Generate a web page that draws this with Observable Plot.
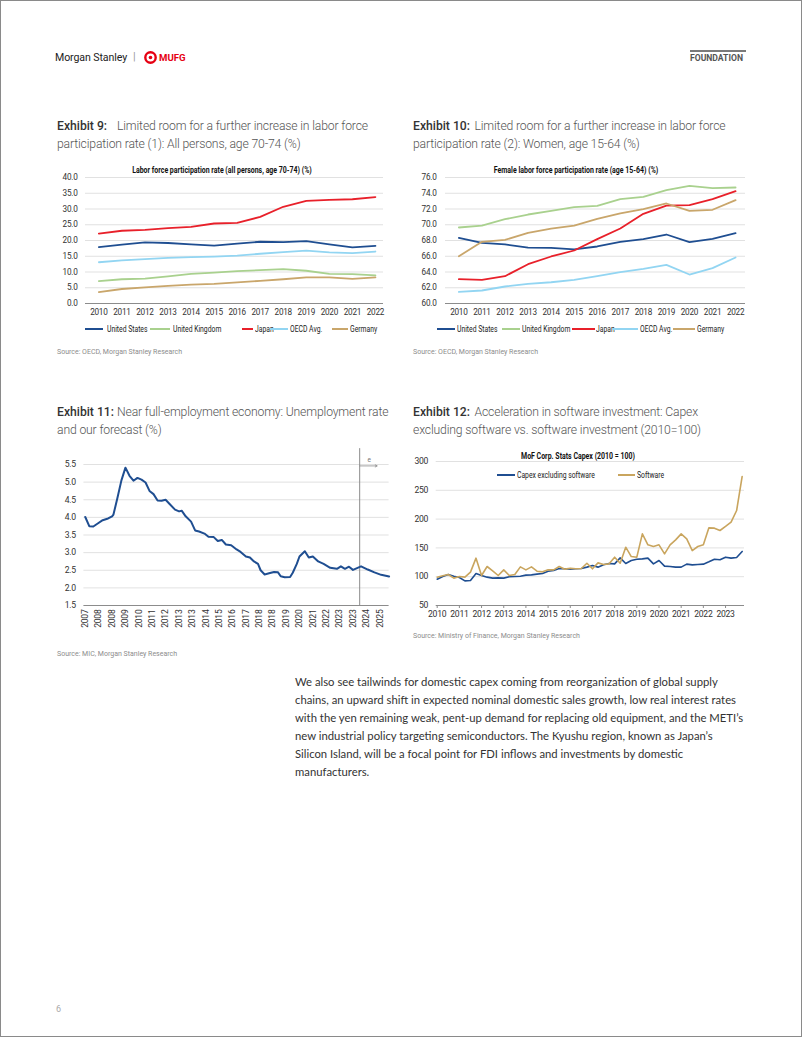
<!DOCTYPE html>
<html><head><meta charset="utf-8">
<script src="https://cdn.jsdelivr.net/npm/d3@7"></script>
<script src="https://cdn.jsdelivr.net/npm/@observablehq/plot@0.6"></script>
<style>
html,body{margin:0;padding:0;background:#fff;}
#page{position:relative;width:802px;height:1037px;overflow:hidden;font-family:Roboto,sans-serif;}
.frame{position:absolute;left:0;top:0;width:802px;height:1037px;box-sizing:border-box;border:1px solid #8a8a8a;}
.abs{position:absolute;white-space:nowrap;}
.ttl{font-size:12.2px;letter-spacing:-0.15px;font-weight:300;color:#555;line-height:18.5px;}
.ttl b{font-weight:500;color:#333;display:inline-block;width:60px;letter-spacing:0;}
.ttl.r b{width:61.5px;}
.ctitle{font-family:Roboto,sans-serif;font-weight:bold;font-size:8.3px;color:#111;transform:translateX(-50%) scaleX(0.84);line-height:10px;}
.src{font-size:7px;color:#8c8c8c;line-height:10px;}
.leg{font-family:Roboto,sans-serif;font-size:8.5px;color:#222;line-height:10px;transform-origin:0 50%;transform:scaleX(0.8);}
.sw{position:absolute;height:2px;}
.para{font-family:Lato,sans-serif;font-size:11.3px;color:#333;line-height:18px;}
.chart text{letter-spacing:-0.25px;}
</style>
</head><body>
<div id="page">
  <div class="frame"></div>
  <div class="abs" style="left:55px;top:50.5px;font-family:Roboto,sans-serif;font-size:10.6px;color:#222;line-height:13px;letter-spacing:-0.1px;">Morgan Stanley</div>
  <div class="abs" style="left:133px;top:50px;font-size:11px;color:#999;line-height:14px;">|</div>
  <svg class="abs" style="left:143px;top:50px" width="15" height="15"><circle cx="7.5" cy="7.5" r="5.2" fill="none" stroke="#e60012" stroke-width="2.4"/><circle cx="7.5" cy="7.5" r="1.8" fill="#e60012"/></svg>
  <div class="abs" style="left:159px;top:51.5px;font-family:Roboto,sans-serif;font-weight:700;font-size:9.6px;color:#e60012;line-height:12px;">MUFG</div>
  <div class="abs" style="left:690px;top:50px;width:56px;height:2px;background:#7a7a7a;"></div>
  <div class="abs" style="left:690px;top:53px;font-family:Roboto,sans-serif;font-weight:700;font-size:8.6px;color:#555;line-height:11px;">FOUNDATION</div>

  <div class="abs ttl" style="left:57px;top:116.5px;"><b>Exhibit 9:</b>Limited room for a further increase in labor force<br>participation rate (1): All persons, age 70-74 (%)</div>
  <div class="abs ttl r" style="left:413px;top:116.5px;"><b>Exhibit 10:</b>Limited room for a further increase in labor force<br>participation rate (2): Women, age 15-64 (%)</div>
  <div class="abs ttl" style="left:57px;top:402.5px;"><b>Exhibit 11:</b>Near full-employment economy: Unemployment rate<br>and our forecast (%)</div>
  <div class="abs ttl r" style="left:413px;top:402.5px;"><b>Exhibit 12:</b>Acceleration in software investment: Capex<br>excluding software vs. software investment (2010=100)</div>

  <div class="abs ctitle" style="left:221.5px;top:165px;">Labor force participation rate (all persons, age 70-74) (%)</div>
  <div class="abs ctitle" style="left:576px;top:165px;">Female labor force participation rate (age 15-64) (%)</div>
  <div class="abs ctitle" style="left:578px;top:451px;">MoF Corp. Stats Capex (2010 = 100)</div>

  <div id="c9" class="abs chart" style="left:40px;top:160px;"></div>
  <div id="c10" class="abs chart" style="left:395px;top:160px;"></div>
  <div id="c11" class="abs chart" style="left:50px;top:440px;"></div>
  <div id="c12" class="abs chart" style="left:400px;top:450px;"></div>
  <div id="legends"></div>

  <div class="abs src" style="left:57px;top:347px;">Source: OECD, Morgan Stanley Research</div>
  <div class="abs src" style="left:413px;top:347px;">Source: OECD, Morgan Stanley Research</div>
  <div class="abs src" style="left:57px;top:649px;">Source: MIC, Morgan Stanley Research</div>
  <div class="abs src" style="left:413px;top:631px;">Source: Ministry of Finance, Morgan Stanley Research</div>

  <div class="abs para" style="left:295px;top:673px;">We also see tailwinds for domestic capex coming from reorganization of global supply<br>chains, an upward shift in expected nominal domestic sales growth, low real interest rates<br>with the yen remaining weak, pent-up demand for replacing old equipment, and the METI’s<br>new industrial policy targeting semiconductors. The Kyushu region, known as Japan’s<br>Silicon Island, will be a focal point for FDI inflows and investments by domestic<br>manufacturers.</div>

  <div class="abs" style="left:56px;top:1003px;font-size:9px;color:#aaa;line-height:12px;">6</div>
</div>
<script>
const font = 'Roboto,sans-serif';

// ---------- Exhibit 9 ----------
const years = [2010, 2011, 2012, 2013, 2014, 2015, 2016, 2017, 2018, 2019, 2020, 2021, 2022];
const seriesNames = ["United States", "United Kingdom", "Japan", "OECD Avg.", "Germany"];
const seriesColors = ["#1f4e91", "#a9d18e", "#e8202a", "#92d5f2", "#c9a66b"];
const us9 = [17.9, 18.7, 19.4, 19.2, 18.8, 18.4, 19.0, 19.6, 19.5, 19.8, 18.8, 17.8, 18.3];
const uk9 = [7.1, 7.7, 7.9, 8.6, 9.4, 9.8, 10.3, 10.6, 10.9, 10.4, 9.4, 9.3, 8.9];
const jp9 = [22.2, 23.1, 23.4, 23.9, 24.3, 25.4, 25.6, 27.5, 30.7, 32.6, 32.9, 33.1, 33.8];
const oecd9 = [13.1, 13.7, 14.1, 14.5, 14.7, 14.9, 15.2, 15.8, 16.3, 16.8, 16.2, 16.0, 16.5];
const de9 = [3.6, 4.6, 5.1, 5.6, 6.0, 6.2, 6.7, 7.2, 7.7, 8.3, 8.3, 7.8, 8.3];
const yTicks9 = [0, 5, 10, 15, 20, 25, 30, 35, 40];

// ---------- Exhibit 10 ----------
const us10 = [68.34, 67.7, 67.5, 67.1, 67.07, 66.86, 67.24, 67.83, 68.17, 68.76, 67.8, 68.2, 68.93];
const uk10 = [69.65, 69.9, 70.7, 71.3, 71.77, 72.23, 72.4, 73.25, 73.55, 74.4, 74.94, 74.65, 74.73];
const jp10 = [63.09, 63.0, 63.47, 64.99, 65.97, 66.73, 68.17, 69.52, 71.39, 72.44, 72.49, 73.25, 74.26];
const oecd10 = [61.48, 61.65, 62.16, 62.5, 62.7, 63.0, 63.47, 63.98, 64.4, 64.9, 63.68, 64.49, 65.84];
const de10 = [66.0, 67.83, 68.08, 68.97, 69.52, 69.9, 70.75, 71.43, 71.98, 72.7, 71.77, 71.9, 73.12];
const yTicks10 = [60, 62, 64, 66, 68, 70, 72, 74, 76];

// ---------- Exhibit 11 ----------
const unempDates = ["2007-04","2007-07","2007-10","2008-01","2008-05","2008-09","2008-12","2009-01","2009-04","2009-07","2009-10",
  "2010-01","2010-04","2010-07","2010-10","2011-01","2011-04","2011-07","2011-10","2012-01","2012-04","2012-07","2012-11",
  "2013-02","2013-04","2013-07","2013-11","2014-02","2014-05","2014-09","2014-12","2015-04","2015-07","2015-10","2016-01",
  "2016-05","2016-09","2016-12","2017-04","2017-07","2017-10","2018-01","2018-03","2018-06","2018-10","2019-01","2019-04",
  "2019-06","2019-09","2020-01","2020-03","2020-06","2020-08","2020-12","2021-03","2021-06","2021-10","2022-02","2022-07",
  "2022-12","2023-03","2023-06","2023-09","2023-12","2024-06","2024-11","2025-04","2025-09","2026-03"];
const unempValues = [4.01,3.75,3.74,3.82,3.92,3.97,4.03,4.08,4.55,5.05,5.41,
  5.18,5.04,5.12,5.07,4.99,4.75,4.66,4.48,4.47,4.5,4.38,4.22,
  4.17,4.19,4.03,3.88,3.63,3.6,3.54,3.45,3.44,3.33,3.36,3.23,
  3.21,3.09,3.02,2.89,2.86,2.75,2.68,2.5,2.38,2.42,2.45,2.44,
  2.33,2.3,2.31,2.43,2.68,2.89,3.04,2.86,2.89,2.75,2.68,2.57,
  2.54,2.61,2.54,2.6,2.51,2.61,2.52,2.44,2.37,2.32];
const forecastStart = "2024-05";
const forecastArrowEnd = "2025-06";
const tickDates11 = ["2007-04","2008-02","2008-12","2009-10","2010-08","2011-06","2012-04","2013-02","2013-12","2014-10",
  "2015-08","2016-06","2017-04","2018-02","2018-12","2019-10","2020-08","2021-06","2022-04","2023-02","2023-12","2024-10","2025-08"];
const yTicks11 = [1.5, 2.0, 2.5, 3.0, 3.5, 4.0, 4.5, 5.0, 5.5];

// ---------- Exhibit 12 ----------
const capexYears = [2010, 2011, 2012, 2013, 2014, 2015, 2016, 2017, 2018, 2019, 2020, 2021, 2022, 2023];
const capexExSoftware = [95.7,100.3,103.8,100.9, 98.6,92.8,93.4,105.6, 102.1,99.2,97.5,98.0, 97.5,99.8,100.3,100.9,
  102.7,103.2,104.4,105.6, 109.6,110.8,114.2,113.7, 113.1,113.7,114.2,116.6, 119.5,116.6,120.6,122.9,
  122.3,132.7,122.9,128.1, 130.4,131.0,132.2,122.3, 128.1,118.3,117.7,116.6, 116.6,121.8,120.6,121.2,
  121.8,125.8,130.4,129.3, 133.9,132.2,133.3,143.8];
const software = [99.2,101.5,103.8,97.5, 100.3,99.2,107.9,132.2, 102.1,117.7,110.2,102.1, 111.9,102.1,103.8,117.1,
  111.9,117.1,109.6,108.4, 111.9,111.9,117.7,113.1, 114.8,113.7,114.2,123.4, 113.7,124.0,121.2,122.3,
  133.9,123.4,151.2,135.0, 133.9,174.4,155.3,152.4, 155.3,139.6,155.3,164.0, 174.4,165.7,145.4,152.4,
  155.3,184.8,184.3,180.2, 187.2,194.7,214.9,274.0];
const seriesNames12 = ["Capex excluding software", "Software"];
const seriesColors12 = ["#1f4e91", "#c9a55e"];
const yTicks12 = [50, 100, 150, 200, 250, 300];

// ---------- helpers ----------
function longFormat(arrays) {
  const out = [];
  arrays.forEach((arr, s) => arr.forEach((v, i) => out.push({series: seriesNames[s], year: years[i], value: v})));
  return out;
}

function yearChart(arrays, yTicks, yDomain, xDomain, opts) {
  return Plot.plot({
    width: opts.width, height: 163, marginTop: 17, marginBottom: 20,
    marginLeft: opts.ml, marginRight: opts.mr,
    style: {fontFamily: font, fontSize: "8.2px", color: "#333", background: "transparent", overflow: "visible"},
    x: {domain: xDomain},
    y: {domain: yDomain},
    color: {domain: seriesNames, range: seriesColors},
    marks: [
      Plot.gridY(yTicks.slice(1), {stroke: "#d9d9d9", strokeOpacity: 1, strokeWidth: 0.8}),
      Plot.ruleY([yDomain[0]], {stroke: "#8c8c8c", strokeWidth: 1}),
      Plot.axisY(yTicks, {tickSize: 0, tickPadding: opts.yPad, tickFormat: d => d.toFixed(1), label: null}),
      Plot.axisX(years, {tickSize: 0, tickPadding: 6, tickFormat: d => String(d), label: null}),
      Plot.line(longFormat(arrays), {x: "year", y: "value", z: "series", stroke: "series", strokeWidth: 1.8, curve: "linear"})
    ]
  });
}

document.getElementById("c9").append(
  yearChart([us9, uk9, jp9, oecd9, de9], yTicks9, [0, 40], [2009.42, 2022.35], {width: 350, ml: 45, mr: 7, yPad: 8})
);
document.getElementById("c10").append(
  yearChart([us10, uk10, jp10, oecd10, de10], yTicks10, [60, 76], [2009.42, 2022.43], {width: 355, ml: 50, mr: 5, yPad: 9})
);

// Exhibit 11
const parseYM = d3.utcParse("%Y-%m");
const unemp = unempDates.map((d, i) => ({date: parseYM(d), value: unempValues[i]}));
const fc = parseYM(forecastStart);
const fcEnd = parseYM(forecastArrowEnd);
document.getElementById("c11").append(Plot.plot({
  width: 345, height: 210, marginTop: 24, marginBottom: 45, marginLeft: 33.4, marginRight: 6.4,
  style: {fontFamily: font, fontSize: "8.6px", color: "#333", background: "transparent", overflow: "visible"},
  x: {type: "utc", domain: [parseYM("2007-03"), parseYM("2026-03")]},
  y: {domain: [1.5, 5.5]},
  marks: [
    Plot.gridY(yTicks11.slice(1), {stroke: "#d9d9d9", strokeOpacity: 1, strokeWidth: 0.8}),
    Plot.ruleY([1.5], {stroke: "#8c8c8c", strokeWidth: 1.2}),
    Plot.axisY(yTicks11, {tickSize: 0, tickPadding: 8, tickFormat: d => d.toFixed(1), label: null}),
    Plot.axisX(tickDates11.map(parseYM), {tickSize: 0, tickPadding: 4, tickRotate: -90, tickFormat: d3.utcFormat("%Y"), label: null}),
    Plot.ruleX([fc], {y1: 1.5, y2: 5.95, stroke: "#8c8c8c", strokeWidth: 1}),
    Plot.arrow([{x1: fc, x2: fcEnd, y: 5.46}], {x1: "x1", x2: "x2", y1: "y", y2: "y", stroke: "#8c8c8c", strokeWidth: 0.8, headLength: 4}),
    Plot.text([{x: d3.utcMonth.offset(fc, 7), y: 5.62}], {x: "x", y: "y", text: () => "e", fill: "#777", fontSize: 6.5}),
    Plot.line(unemp, {x: "date", y: "value", stroke: "#1f4e91", strokeWidth: 2})
  ]
}));

// Exhibit 12
const capexData = [];
[capexExSoftware, software].forEach((arr, s) => arr.forEach((v, i) => capexData.push({
  series: seriesNames12[s], t: capexYears[0] + i / 4, value: v
})));
document.getElementById("c12").append(Plot.plot({
  width: 350, height: 175, marginTop: 11, marginBottom: 20, marginLeft: 35.7, marginRight: 6,
  style: {fontFamily: font, fontSize: "8.6px", color: "#333", background: "transparent", overflow: "visible"},
  x: {domain: [2009.955, 2023.855]},
  y: {domain: [50, 300]},
  color: {domain: seriesNames12, range: seriesColors12},
  marks: [
    Plot.gridY(yTicks12.slice(1), {stroke: "#d9d9d9", strokeOpacity: 1, strokeWidth: 0.8}),
    Plot.ruleY([50], {stroke: "#8c8c8c", strokeWidth: 1.2}),
    Plot.axisY(yTicks12, {tickSize: 0, tickPadding: 8, label: null}),
    Plot.axisX(capexYears, {tickSize: 3, tickPadding: 2, stroke: "#8c8c8c", tickFormat: d => String(d), label: null}),
    Plot.line(capexData, {x: "t", y: "value", z: "series", stroke: "series", strokeWidth: 1.6})
  ]
}));

// Legends (HTML)
const legendSpecs = [
  {y: 329, items: [[85, 103, 106.5], [150, 170, 173], [241.5, 253, 255], [270, 288, 290], [331.5, 348, 349.5]], names: seriesNames, colors: seriesColors},
  {y: 329, items: [[436.5, 455, 456.5], [501.5, 520, 521.5], [571.5, 595, 596], [611.5, 638, 640], [673, 695, 696.5]], names: seriesNames, colors: seriesColors},
  {y: 475, items: [[496.5, 515, 516.5], [618, 635, 637]], names: seriesNames12, colors: seriesColors12}
];
const legRoot = document.getElementById("legends");
legendSpecs.forEach(spec => {
  spec.items.forEach((it, i) => {
    const sw = document.createElement("div");
    sw.className = "sw";
    sw.style.left = it[0] + "px"; sw.style.top = (spec.y - 1) + "px";
    sw.style.width = (it[1] - it[0]) + "px"; sw.style.background = spec.colors[i];
    legRoot.append(sw);
    const tx = document.createElement("div");
    tx.className = "abs leg";
    tx.style.left = it[2] + "px"; tx.style.top = (spec.y - 5) + "px";
    tx.textContent = spec.names[i];
    legRoot.append(tx);
  });
});
</script>
</body></html>
